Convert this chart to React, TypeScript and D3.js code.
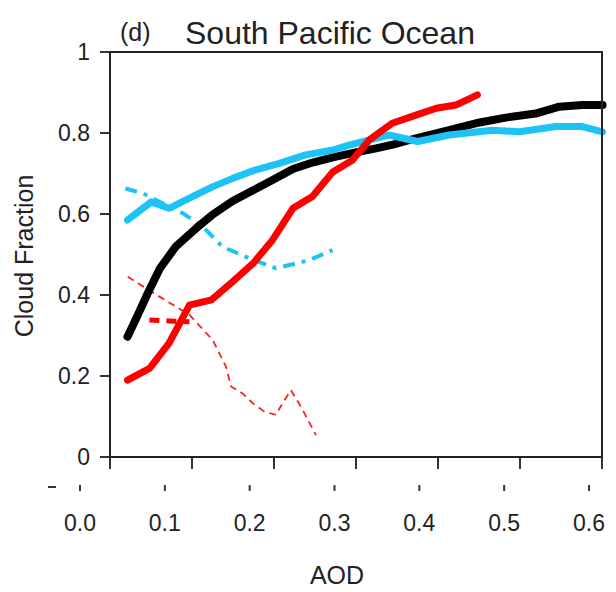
import React from "react";
import * as d3 from "d3";

// ---- data (AOD, cloud fraction) ----
const blackAOD = [0.056, 0.068, 0.08, 0.094, 0.113, 0.137, 0.156, 0.18, 0.208, 0.227, 0.251, 0.274, 0.298, 0.325, 0.349, 0.37, 0.396, 0.435, 0.471, 0.502, 0.537, 0.565, 0.592, 0.616];
const blackCF = [0.297, 0.35, 0.405, 0.465, 0.52, 0.565, 0.598, 0.632, 0.663, 0.684, 0.711, 0.727, 0.74, 0.752, 0.762, 0.772, 0.787, 0.807, 0.826, 0.838, 0.848, 0.865, 0.869, 0.869];

const cyanAOD = [0.056, 0.084, 0.105, 0.129, 0.156, 0.18, 0.204, 0.235, 0.266, 0.298, 0.317, 0.364, 0.398, 0.435, 0.486, 0.518, 0.561, 0.592, 0.616];
const cyanCF = [0.585, 0.63, 0.614, 0.639, 0.667, 0.688, 0.707, 0.725, 0.746, 0.758, 0.77, 0.795, 0.779, 0.795, 0.807, 0.803, 0.816, 0.816, 0.803];

const redAOD = [0.056, 0.082, 0.105, 0.129, 0.155, 0.18, 0.204, 0.227, 0.251, 0.274, 0.298, 0.321, 0.341, 0.368, 0.396, 0.42, 0.443, 0.4685];
const redCF = [0.19, 0.219, 0.281, 0.375, 0.388, 0.433, 0.478, 0.536, 0.614, 0.643, 0.704, 0.733, 0.783, 0.824, 0.844, 0.861, 0.869, 0.894];

const cyanDashAOD = [0.0535, 0.074, 0.121, 0.1446, 0.168, 0.1957, 0.231, 0.2467, 0.2703, 0.2977];
const cyanDashCF = [0.663, 0.651, 0.602, 0.569, 0.519, 0.494, 0.466, 0.474, 0.486, 0.511];

const redDashAOD = [0.0818, 0.105, 0.129];
const redDashCF = [0.338, 0.336, 0.334];

const redThinAOD = [0.0563, 0.0936, 0.129, 0.1564, 0.1721, 0.178, 0.1917, 0.2035, 0.2173, 0.231, 0.2388, 0.2487, 0.2605, 0.2782];
const redThinCF = [0.445, 0.396, 0.351, 0.289, 0.223, 0.174, 0.157, 0.133, 0.112, 0.104, 0.133, 0.165, 0.124, 0.054];

const yTicks = [0, 0.2, 0.4, 0.6, 0.8, 1];
const yTickLabels = ["0", "0.2", "0.4", "0.6", "0.8", "1"];
const xTicks = [0, 0.1, 0.2, 0.3, 0.4, 0.5, 0.6];
const xTickLabels = ["0.0", "0.1", "0.2", "0.3", "0.4", "0.5", "0.6"];
const frameTickIdx = [0, 1, 2, 3, 4, 5, 6];

const FONT = "'Liberation Sans', Arial, sans-serif";

export default function App() {
  const W = 616, H = 592;
  const left = 110, right = 602, top = 52, bottom = 457;
  const x = d3.scaleLinear().domain([0, 0.6]).range([80, 589]);
  const y = d3.scaleLinear().domain([0, 1]).range([bottom, top]);
  const fx = d3.scaleLinear().domain([0, 6]).range([left, right]);

  const mk = (xs: number[], ys: number[]) =>
    d3.line<number>().x((_, i) => x(xs[i])).y((v) => y(v))(ys) || "";

  const series = [
    { d: mk(redThinAOD, redThinCF), stroke: "#ff2020", w: 1.8, dash: "7,5" },
    { d: mk(cyanDashAOD, cyanDashCF), stroke: "#1cc3f4", w: 4, dash: "12,7,4,7" },
    { d: mk(redDashAOD, redDashCF), stroke: "#ff0000", w: 5, dash: "10,7" },
    { d: mk(blackAOD, blackCF), stroke: "#000", w: 8, dash: undefined },
    { d: mk(cyanAOD, cyanCF), stroke: "#1cc3f4", w: 7, dash: undefined },
    { d: mk(redAOD, redCF), stroke: "#ff0000", w: 7, dash: undefined },
  ];

  return (
    <svg width={W} height={H} style={{ position: "absolute", left: 0, top: 0, background: "#fff" }} fontFamily={FONT}>
      <rect x={0} y={0} width={W} height={H} fill="#fff" />
      {/* title */}
      <text x={120} y={41} fontSize={25} fill="#222">(d)</text>
      <text x={185} y={44} fontSize={32} fill="#222">South Pacific Ocean</text>

      {/* y axis ticks and labels */}
      {yTicks.map((t, i) => (
        <g key={"y" + i}>
          <line x1={left - 10} x2={left} y1={y(t)} y2={y(t)} stroke="#333" strokeWidth={2} />
          <text x={90} y={y(t) + 8} fontSize={23} textAnchor="end" fill="#222">{yTickLabels[i]}</text>
        </g>
      ))}
      {/* frame ticks on bottom */}
      {frameTickIdx.map((t) => (
        <line key={"f" + t} x1={fx(t)} x2={fx(t)} y1={bottom} y2={bottom + 12} stroke="#333" strokeWidth={2} />
      ))}

      {/* data lines */}
      {series.map((s, i) => (
        <path key={"s" + i} d={s.d} fill="none" stroke={s.stroke} strokeWidth={s.w}
          strokeDasharray={s.dash} strokeLinejoin="round" strokeLinecap={s.dash ? "butt" : "round"} />
      ))}

      {/* frame */}
      <rect x={left} y={top} width={right - left} height={bottom - top} fill="none" stroke="#222" strokeWidth={2} />

      {/* lower labeled axis row */}
      <line x1={48} x2={56} y1={487} y2={487} stroke="#333" strokeWidth={2} />
      {xTicks.map((t, i) => (
        <g key={"x" + i}>
          <line x1={x(t)} x2={x(t)} y1={485} y2={491} stroke="#333" strokeWidth={2} />
          <text x={x(t)} y={531} fontSize={23} textAnchor="middle" fill="#222">{xTickLabels[i]}</text>
        </g>
      ))}
      <text x={337} y={584} fontSize={25} textAnchor="middle" fill="#222">AOD</text>
      <text transform="translate(33,256) rotate(-90)" fontSize={25} textAnchor="middle" fill="#222">Cloud Fraction</text>
    </svg>
  );
}
